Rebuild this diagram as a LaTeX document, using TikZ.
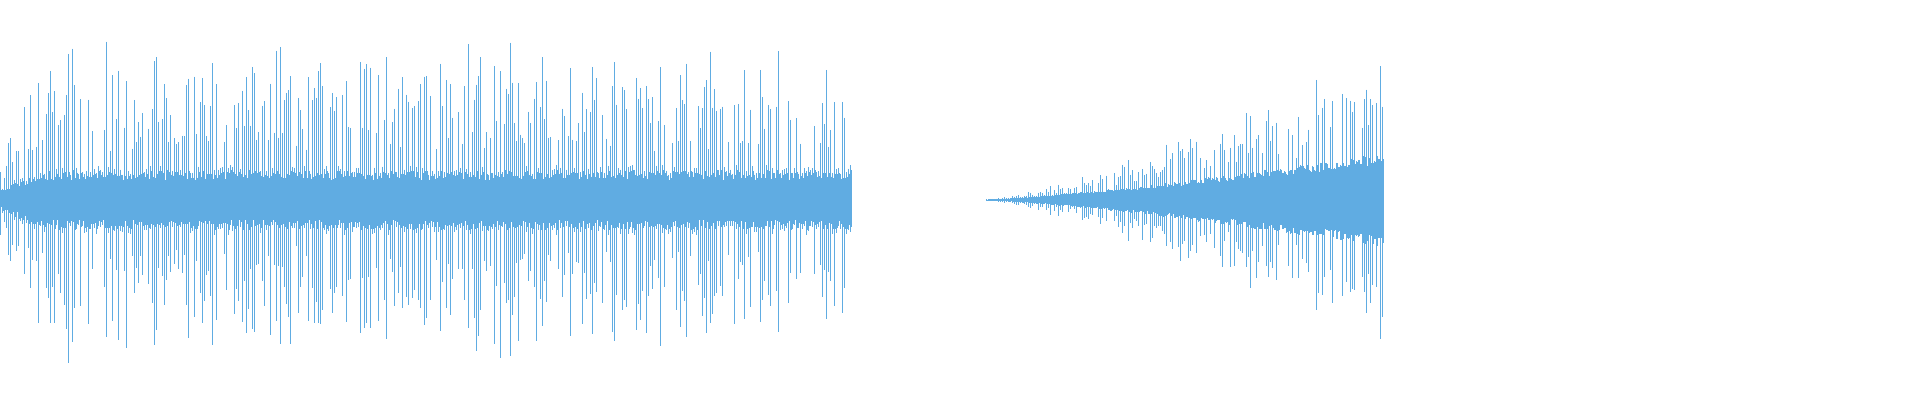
\documentclass[tikz,border=0pt]{standalone}
\definecolor{wave}{RGB}{96,172,226}
\begin{document}
\begin{tikzpicture}[x=1pt,y=1pt,wv/.style={draw=wave,line width=0.7pt}]
\useasboundingbox (0,0) rectangle (1920,400);
\pgfmathsetseed{7}
% first waveform
\foreach \i in {0,2,...,850}{
  \pgfmathsetmacro{\c}{20+10*rnd}
  \pgfmathsetmacro{\d}{20+10*rnd}
  \pgfmathsetmacro{\s}{rnd<0.6 ? 55+95*rnd : 0}
  \pgfmathsetmacro{\u}{max(\c+5,\s*(0.8+0.3*rnd))}
  \pgfmathsetmacro{\l}{max(\d+5,\s*(0.8+0.3*rnd))}
  \pgfmathsetmacro{\ramp}{min(1,(\i+20)/60)}
  \draw[wv] (\i+0.5,200+\u*\ramp) -- (\i+0.5,200-\l*\ramp);
  \draw[wv] (\i+1.5,200+\c*\ramp) -- (\i+1.5,200-\d*\ramp);
}
% second waveform
\foreach \i in {986,988,...,1382}{
  \pgfmathsetmacro{\t}{((\i-986)/398)^1.3}
  \pgfmathsetmacro{\c}{(35+12*rnd)*\t+0.5}
  \pgfmathsetmacro{\d}{(35+12*rnd)*\t+0.5}
  \pgfmathsetmacro{\s}{rnd<0.65 ? (70+80*rnd)*\t : 0}
  \pgfmathsetmacro{\u}{max(\c,\s*(0.8+0.3*rnd))+0.5}
  \pgfmathsetmacro{\l}{max(\d,\s*(0.8+0.3*rnd))+0.5}
  \draw[wv] (\i+0.5,200+\u) -- (\i+0.5,200-\l);
  \draw[wv] (\i+1.5,200+\c) -- (\i+1.5,200-\d);
}
\end{tikzpicture}
\end{document}
